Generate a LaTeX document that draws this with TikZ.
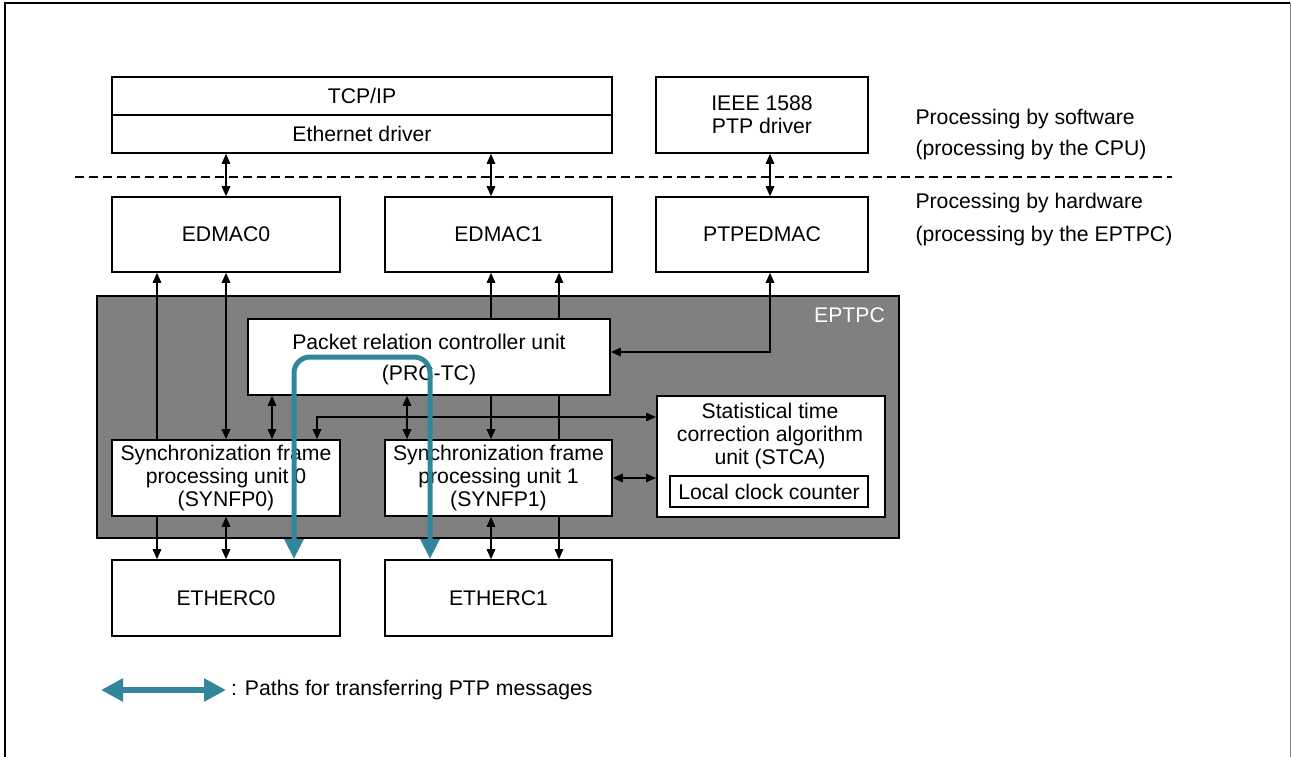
\documentclass[tikz,border=0pt]{standalone}
\usepackage{fontspec}
\setmainfont{Liberation Sans}
\usetikzlibrary{arrows.meta}
\definecolor{pathteal}{RGB}{49,134,155}
\definecolor{eptpcgray}{RGB}{128,128,128}
\begin{document}
\begin{tikzpicture}[x=1pt,y=-1pt,
  lbl/.style={font=\fontsize{21.2}{24}\selectfont},
  box/.style={draw, line width=1.6pt, fill=white, align=center, inner sep=0pt,
    font=\fontsize{21.2}{23}\selectfont},
  tip/.tip={Triangle[length=10pt,width=8.5pt]},
  uni/.style={line width=1.5pt, -tip},
  bi/.style={line width=1.5pt, tip-tip},
  ptptip/.tip={Triangle[length=20pt,width=18pt,fill=pathteal]},
  ptp/.style={line width=5pt, draw=pathteal, rounded corners=16pt, ptptip-ptptip},
  legtip/.tip={Triangle[length=22pt,width=22pt,fill=pathteal]},
  legendarrow/.style={line width=6pt, draw=pathteal, legtip-legtip}]
\useasboundingbox (0,0) rectangle (1291,757);
% outer frame
\draw[line width=2.2pt] (5,757) -- (5,3) -- (1290,3);
\draw[line width=1pt, draw=eptpcgray] (1290,3) -- (1290,757);

% software layer
\node[box, minimum width=500pt, minimum height=38pt] (tcp) at (362,96) {TCP/IP};
\node[box, minimum width=500pt, minimum height=38pt] (eth) at (362,134) {Ethernet driver};
\node[box, minimum width=212pt, minimum height=76pt] (ieee) at (762,115) {IEEE 1588\\PTP driver};

\draw[line width=2.4pt, dash pattern=on 9pt off 5pt] (75,177) -- (1172,177);

\node[lbl, anchor=west] (sw1) at (912,119) {Processing by software};
\node[lbl, anchor=west] (sw2) at (912,150) {(processing by the CPU)};
\node[lbl, anchor=west] (hw1) at (912,203) {Processing by hardware};
\node[lbl, anchor=west] (hw2) at (912,236) {(processing by the EPTPC)};

% DMAC layer
\node[box, minimum width=228pt, minimum height=75pt] (edmac0) at (226,234.5) {EDMAC0};
\node[box, minimum width=227pt, minimum height=75pt] (edmac1) at (498.5,234.5) {EDMAC1};
\node[box, minimum width=212pt, minimum height=75pt] (ptpedmac) at (762,234.5) {PTPEDMAC};

\draw[bi] (eth.south -| 226,0) -- (edmac0.north -| 226,0);
\draw[bi] (eth.south -| 491,0) -- (edmac1.north -| 491,0);
\draw[bi] (ieee.south -| 770,0) -- (ptpedmac.north -| 770,0);

% EPTPC block
\node[draw, line width=1.4pt, fill=eptpcgray, minimum width=802pt, minimum height=242pt, inner sep=0pt] (eptpc) at (498,417) {};
\node[lbl, text=white, anchor=north east, inner sep=0pt] (eptpclbl) at (885,307) {EPTPC};

\node[box, minimum width=228pt, minimum height=76pt] (synfp0) at (226,478)
  {Synchronization frame\\processing unit 0\\(SYNFP0)};
\node[box, minimum width=227pt, minimum height=76pt] (synfp1) at (498.5,478)
  {Synchronization frame\\processing unit 1\\(SYNFP1)};

% lines passing behind PRC-TC
\draw[bi] (synfp1.north -| 491,0) -- (edmac1.south -| 491,0);
\draw[uni] (synfp1.north -| 559,0) -- (edmac1.south -| 559,0);
\draw[uni] (synfp0.north -| 157,0) -- (edmac0.south -| 157,0);
\draw[bi] (synfp0.north -| 226,0) -- (edmac0.south -| 226,0);

\node[box, minimum width=362pt, minimum height=76pt] (prc) at (429,357) {};
\node[font=\fontsize{21.2}{23}\selectfont, inner sep=0pt] (prc1) at (429,342) {Packet relation controller unit};
\node[font=\fontsize{21.2}{23}\selectfont, inner sep=0pt] (prc2) at (429,375) {(PRC-TC)};

\node[box, minimum width=228pt, minimum height=121pt, anchor=north west] (stca) at (656,395) {};
\node[font=\fontsize{21.2}{23}\selectfont, align=center, inner sep=0pt] (stcat) at (770,436)
  {Statistical time\\correction algorithm\\unit (STCA)};
\node[box, minimum width=198pt, minimum height=31pt] (lcc) at (769,491.5) {Local clock counter};

% EPTPC internal connectors
\draw[bi] (prc.south -| 272,0) -- (synfp0.north -| 272,0);
\draw[bi] (prc.south -| 407,0) -- (synfp1.north -| 407,0);
\draw[bi] (stca.west |- 0,417) -| (synfp0.north -| 317,0);
\draw[bi] (synfp1.east |- 0,478) -- (stca.west |- 0,478);
\draw[bi] (ptpedmac.south -| 770,0) |- (prc.east |- 0,352);

% MAC layer
\node[box, minimum width=228pt, minimum height=76pt] (etherc0) at (226,598) {ETHERC0};
\node[box, minimum width=227pt, minimum height=76pt] (etherc1) at (498.5,598) {ETHERC1};

\draw[uni] (synfp0.south -| 157,0) -- (etherc0.north -| 157,0);
\draw[bi] (synfp0.south -| 226,0) -- (etherc0.north -| 226,0);
\draw[bi] (synfp1.south -| 491,0) -- (etherc1.north -| 491,0);
\draw[uni] (synfp1.south -| 559,0) -- (etherc1.north -| 559,0);

% PTP message path
\draw[ptp] (etherc0.north -| 294,0) -- (294,357) -- (430,357) -- (etherc1.north -| 430,0);

% legend
\coordinate (lga) at (101,690);
\coordinate (lgb) at (226,690);
\draw[legendarrow] (lga) -- (lgb);
\node[lbl, anchor=west, inner sep=0pt] (lgtext) at (231,690) {: Paths for transferring PTP messages};
\end{tikzpicture}
\end{document}
